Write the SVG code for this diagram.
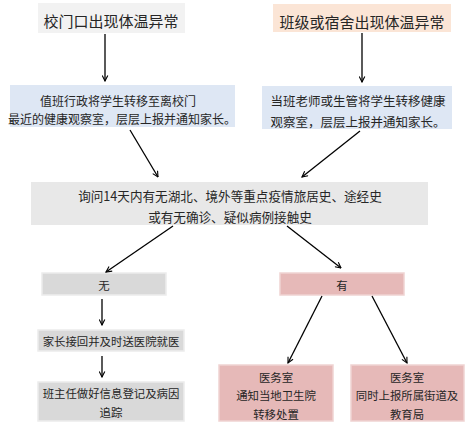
<svg xmlns="http://www.w3.org/2000/svg" width="467" height="432" viewBox="0 0 467 432">
<style>
text{font-family:"Noto Sans CJK SC","Noto Sans",sans-serif;fill:#262626;text-anchor:middle;dominant-baseline:central}
.t{font-size:15px}
.m{font-size:12px}
.s{font-size:11.4px}
.c line{stroke:#000;stroke-width:1.3;marker-end:url(#a)}
</style>
<defs>
<marker id="a" viewBox="0 0 10 10" refX="9" refY="5" markerWidth="7" markerHeight="7" orient="auto" markerUnits="userSpaceOnUse">
<path d="M1,1 L9,5 L1,9" fill="none" stroke="#000" stroke-width="1.6"/>
</marker>
</defs>
<rect width="467" height="432" fill="#fff"/>
<g id="n1"><rect x="38" y="3" width="147" height="30" fill="#f2f2f2"/><text class="t" x="111" y="20">校门口出现体温异常</text></g>
<g id="n2"><rect x="273" y="4" width="178" height="28" fill="#fbe5d6"/><text class="t" x="362" y="21">班级或宿舍出现体温异常</text></g>
<g id="n3"><rect x="10" y="85" width="225" height="42" fill="#dee7f4"/><text class="m" x="118" y="100">值班行政将学生转移至离校门</text><text class="m" x="122" y="118">最近的健康观察室，层层上报并通知家长。</text></g>
<g id="n4"><rect x="262" y="86" width="190" height="43" fill="#dee7f4"/><text class="m" x="358" y="100" style="font-size:12.5px">当班老师或生管将学生转移健康</text><text class="m" x="358" y="121" style="font-size:12.5px">观察室，层层上报并通知家长。</text></g>
<g id="n5"><rect x="31" y="182" width="397" height="43" fill="#e8e8e8"/><text class="m" x="230" y="195" style="font-size:12.6px">询问14天内有无湖北、境外等重点疫情旅居史、途经史</text><text class="m" x="230" y="216" style="font-size:12.6px">或有无确诊、疑似病例接触史</text></g>
<g id="n6"><rect x="42" y="273" width="124" height="22" fill="#d9d9d9" stroke="#ececec" stroke-width="1.5"/><text class="s" x="104" y="285">无</text></g>
<g id="n7"><rect x="280" y="273" width="124" height="22" fill="#e6b9b8" stroke="#efd3d2" stroke-width="1.5"/><text class="s" x="342" y="285">有</text></g>
<g id="n8"><rect x="38" y="330" width="146" height="21" fill="#d9d9d9" stroke="#ececec" stroke-width="1.5"/><text class="s" x="111" y="341">家长接回并及时送医院就医</text></g>
<g id="n9"><rect x="38" y="382" width="146" height="39" fill="#d9d9d9" stroke="#ececec" stroke-width="1.5"/><text class="s" x="111" y="393">班主任做好信息登记及病因</text><text class="s" x="111" y="412">追踪</text></g>
<g id="n10"><rect x="219" y="365" width="114" height="56" fill="#e6b9b8" stroke="#efd3d2" stroke-width="1.5"/><text class="s" x="276" y="377">医务室</text><text class="s" x="276" y="395">通知当地卫生院</text><text class="s" x="276" y="414">转移处置</text></g>
<g id="n11"><rect x="351" y="365" width="113" height="56" fill="#e6b9b8" stroke="#efd3d2" stroke-width="1.5"/><text class="s" x="407" y="377">医务室</text><text class="s" x="407" y="395">同时上报所属街道及</text><text class="s" x="407" y="414">教育局</text></g>
<g class="c" id="connectors">
<line x1="105" y1="34" x2="105" y2="81"/>
<line x1="362" y1="33" x2="362" y2="82"/>
<line x1="130" y1="130" x2="158" y2="177"/>
<line x1="360" y1="131" x2="302" y2="177"/>
<line x1="173" y1="226" x2="106" y2="272"/>
<line x1="287" y1="226" x2="341" y2="268"/>
<line x1="102" y1="299" x2="102" y2="325"/>
<line x1="102" y1="356" x2="102" y2="377"/>
<line x1="322" y1="296" x2="288" y2="363"/>
<line x1="372" y1="296" x2="407" y2="363"/>
</g>
</svg>
